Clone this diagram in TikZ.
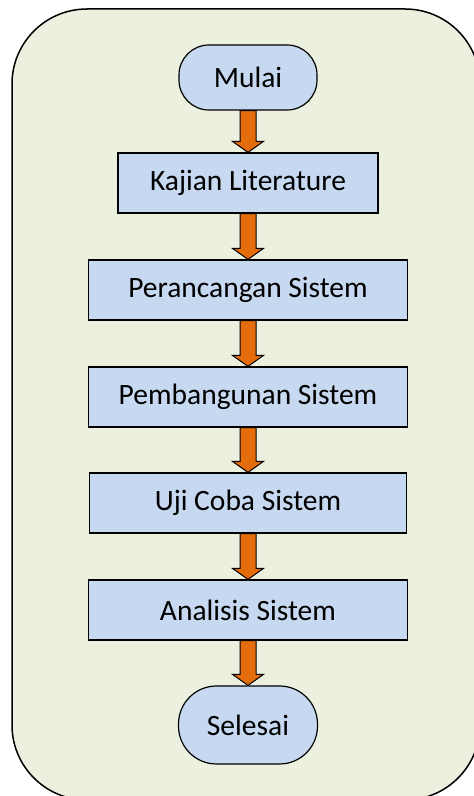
\documentclass[tikz,border=0pt]{standalone}
\usepackage{fontspec}
\setmainfont{Carlito}
\usetikzlibrary{calc}
\definecolor{bgpanel}{HTML}{EBF1DE}
\definecolor{boxblue}{HTML}{C6D9F1}
\definecolor{arroworange}{HTML}{E46C0A}
\def\blockarrow(#1)(#2){\draw[flowarrow] ($(#1.south)+(-8,0)$) -- ($(#2.north)+(-8,11)$) -- ($(#2.north)+(-15.5,11)$) -- (#2.north) -- ($(#2.north)+(15.5,11)$) -- ($(#2.north)+(8,11)$) -- ($(#1.south)+(8,0)$) -- cycle;}

\begin{document}
\begin{tikzpicture}[x=1pt,y=1pt,
    stepbox/.style={draw=black, line width=1.2pt, fill=boxblue, inner sep=0pt,
      minimum height=60pt, font=\fontsize{29.5}{34}\selectfont},
    terminal/.style={stepbox, rounded corners=30pt, minimum width=138pt},
    flowarrow/.style={draw=black, line width=1pt, fill=arroworange}]
  %%%%% PANEL %%%%%
  \useasboundingbox (0,0) rectangle (474,796);
  \draw[line width=1.5pt, fill=bgpanel, rounded corners=75pt] (12,787) rectangle (480,-4);

  %%%%% STEPS %%%%%
  \node[terminal, minimum height=65pt] (mulai) at (248,718.5) {Mulai};
  \node[stepbox, minimum width=260pt] (kajian) at (248,613) {Kajian Literature};
  \node[stepbox, minimum width=319pt] (perancangan) at (248,506) {Perancangan Sistem};
  \node[stepbox, minimum width=319pt] (pembangunan) at (248,399) {Pembangunan Sistem};
  \node[stepbox, minimum width=317pt] (ujicoba) at (248,293) {Uji Coba Sistem};
  \node[stepbox, minimum width=319pt] (analisis) at (248,186) {Analisis Sistem};
  \node[terminal, minimum width=139pt, minimum height=78pt, rounded corners=38pt] (selesai) at (248,71) {Selesai};

  %%%%% ARROWS %%%%%
  \blockarrow(mulai)(kajian)
  \blockarrow(kajian)(perancangan)
  \blockarrow(perancangan)(pembangunan)
  \blockarrow(pembangunan)(ujicoba)
  \blockarrow(ujicoba)(analisis)
  \blockarrow(analisis)(selesai)
\end{tikzpicture}
\end{document}
